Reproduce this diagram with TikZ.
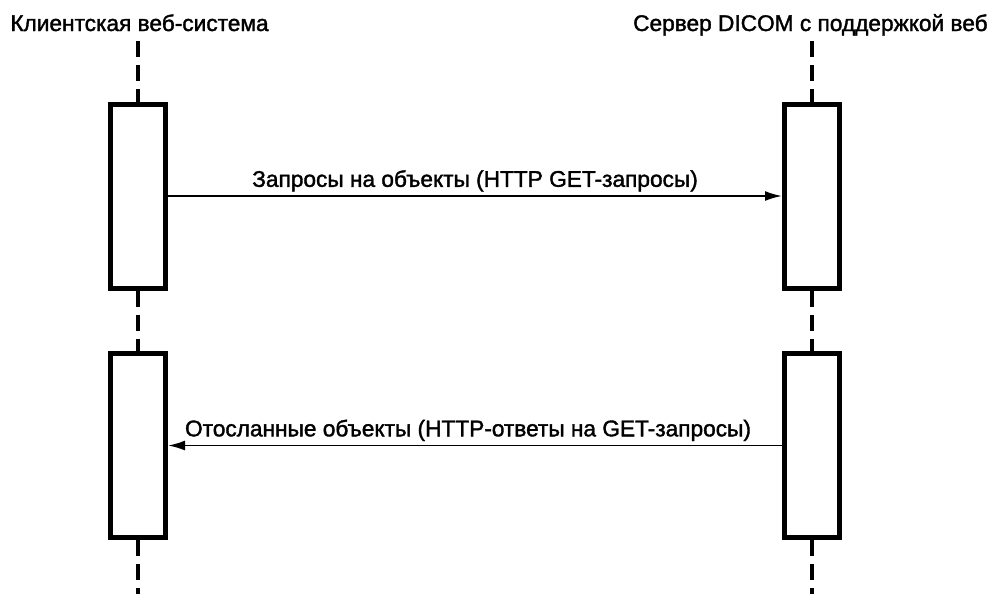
\documentclass[tikz,border=0pt]{standalone}
\usepackage{fontspec}
\setmainfont[FakeBold=1.6]{Liberation Sans}
\usetikzlibrary{arrows.meta,positioning}

\begin{document}
\begin{tikzpicture}[>={Latex[length=0.34cm,width=0.2cm]},
        font=\fontsize{12.9}{15}\selectfont,
        lifeline/.style={line width=1.9pt, dash pattern=on 0.32cm off 0.16cm},
        actbox/.style={draw, line width=0.1cm, minimum width=1.1cm, minimum height=3.68cm, fill=white},
        msg/.style={->, line width=1.1pt}]

            \useasboundingbox (0cm,0cm) rectangle (19.8cm,-11.88cm);

            % titles of the two sides
            \node[anchor=base west, inner sep=0pt] (clienttitle) at (0.2cm,-0.62cm) {Клиентская веб-система};
            \node[anchor=base east, inner sep=0pt] (servertitle) at (19.76cm,-0.62cm) {Сервер DICOM с поддержкой веб};

            % activation boxes
            \node[actbox] (client1) at (2.76cm,-3.92cm) {};
            \node[actbox] (client2) at (2.76cm,-8.91cm) {};
            \node[actbox] (server1) at (16.24cm,-3.92cm) {};
            \node[actbox] (server2) at (16.24cm,-8.91cm) {};

            % free ends of the lifelines
            \coordinate (clienttop) at (2.76cm,-0.82cm);
            \coordinate (clientbottom) at (2.76cm,-11.88cm);
            \coordinate (servertop) at (16.24cm,-0.82cm);
            \coordinate (serverbottom) at (16.24cm,-11.88cm);

            % client lifeline
            \draw[lifeline] (clienttop) -- (client1.north);
            \draw[lifeline] (client1.south) -- (client2.north);
            \draw[lifeline] (client2.south) -- (clientbottom);

            % server lifeline
            \draw[lifeline] (servertop) -- (server1.north);
            \draw[lifeline] (server1.south) -- (server2.north);
            \draw[lifeline] (server2.south) -- (serverbottom);

            % request
            \draw[msg] (client1.east) -- node[above, inner sep=2pt] (request) {Запросы на объекты (HTTP GET-запросы)} (server1.west);

            % response
            \draw[msg] (server2.west) -- node[above, inner sep=2pt, xshift=-0.14cm] (response) {Отосланные объекты (HTTP-ответы на GET-запросы)} (client2.east);

        \end{tikzpicture}
\end{document}
